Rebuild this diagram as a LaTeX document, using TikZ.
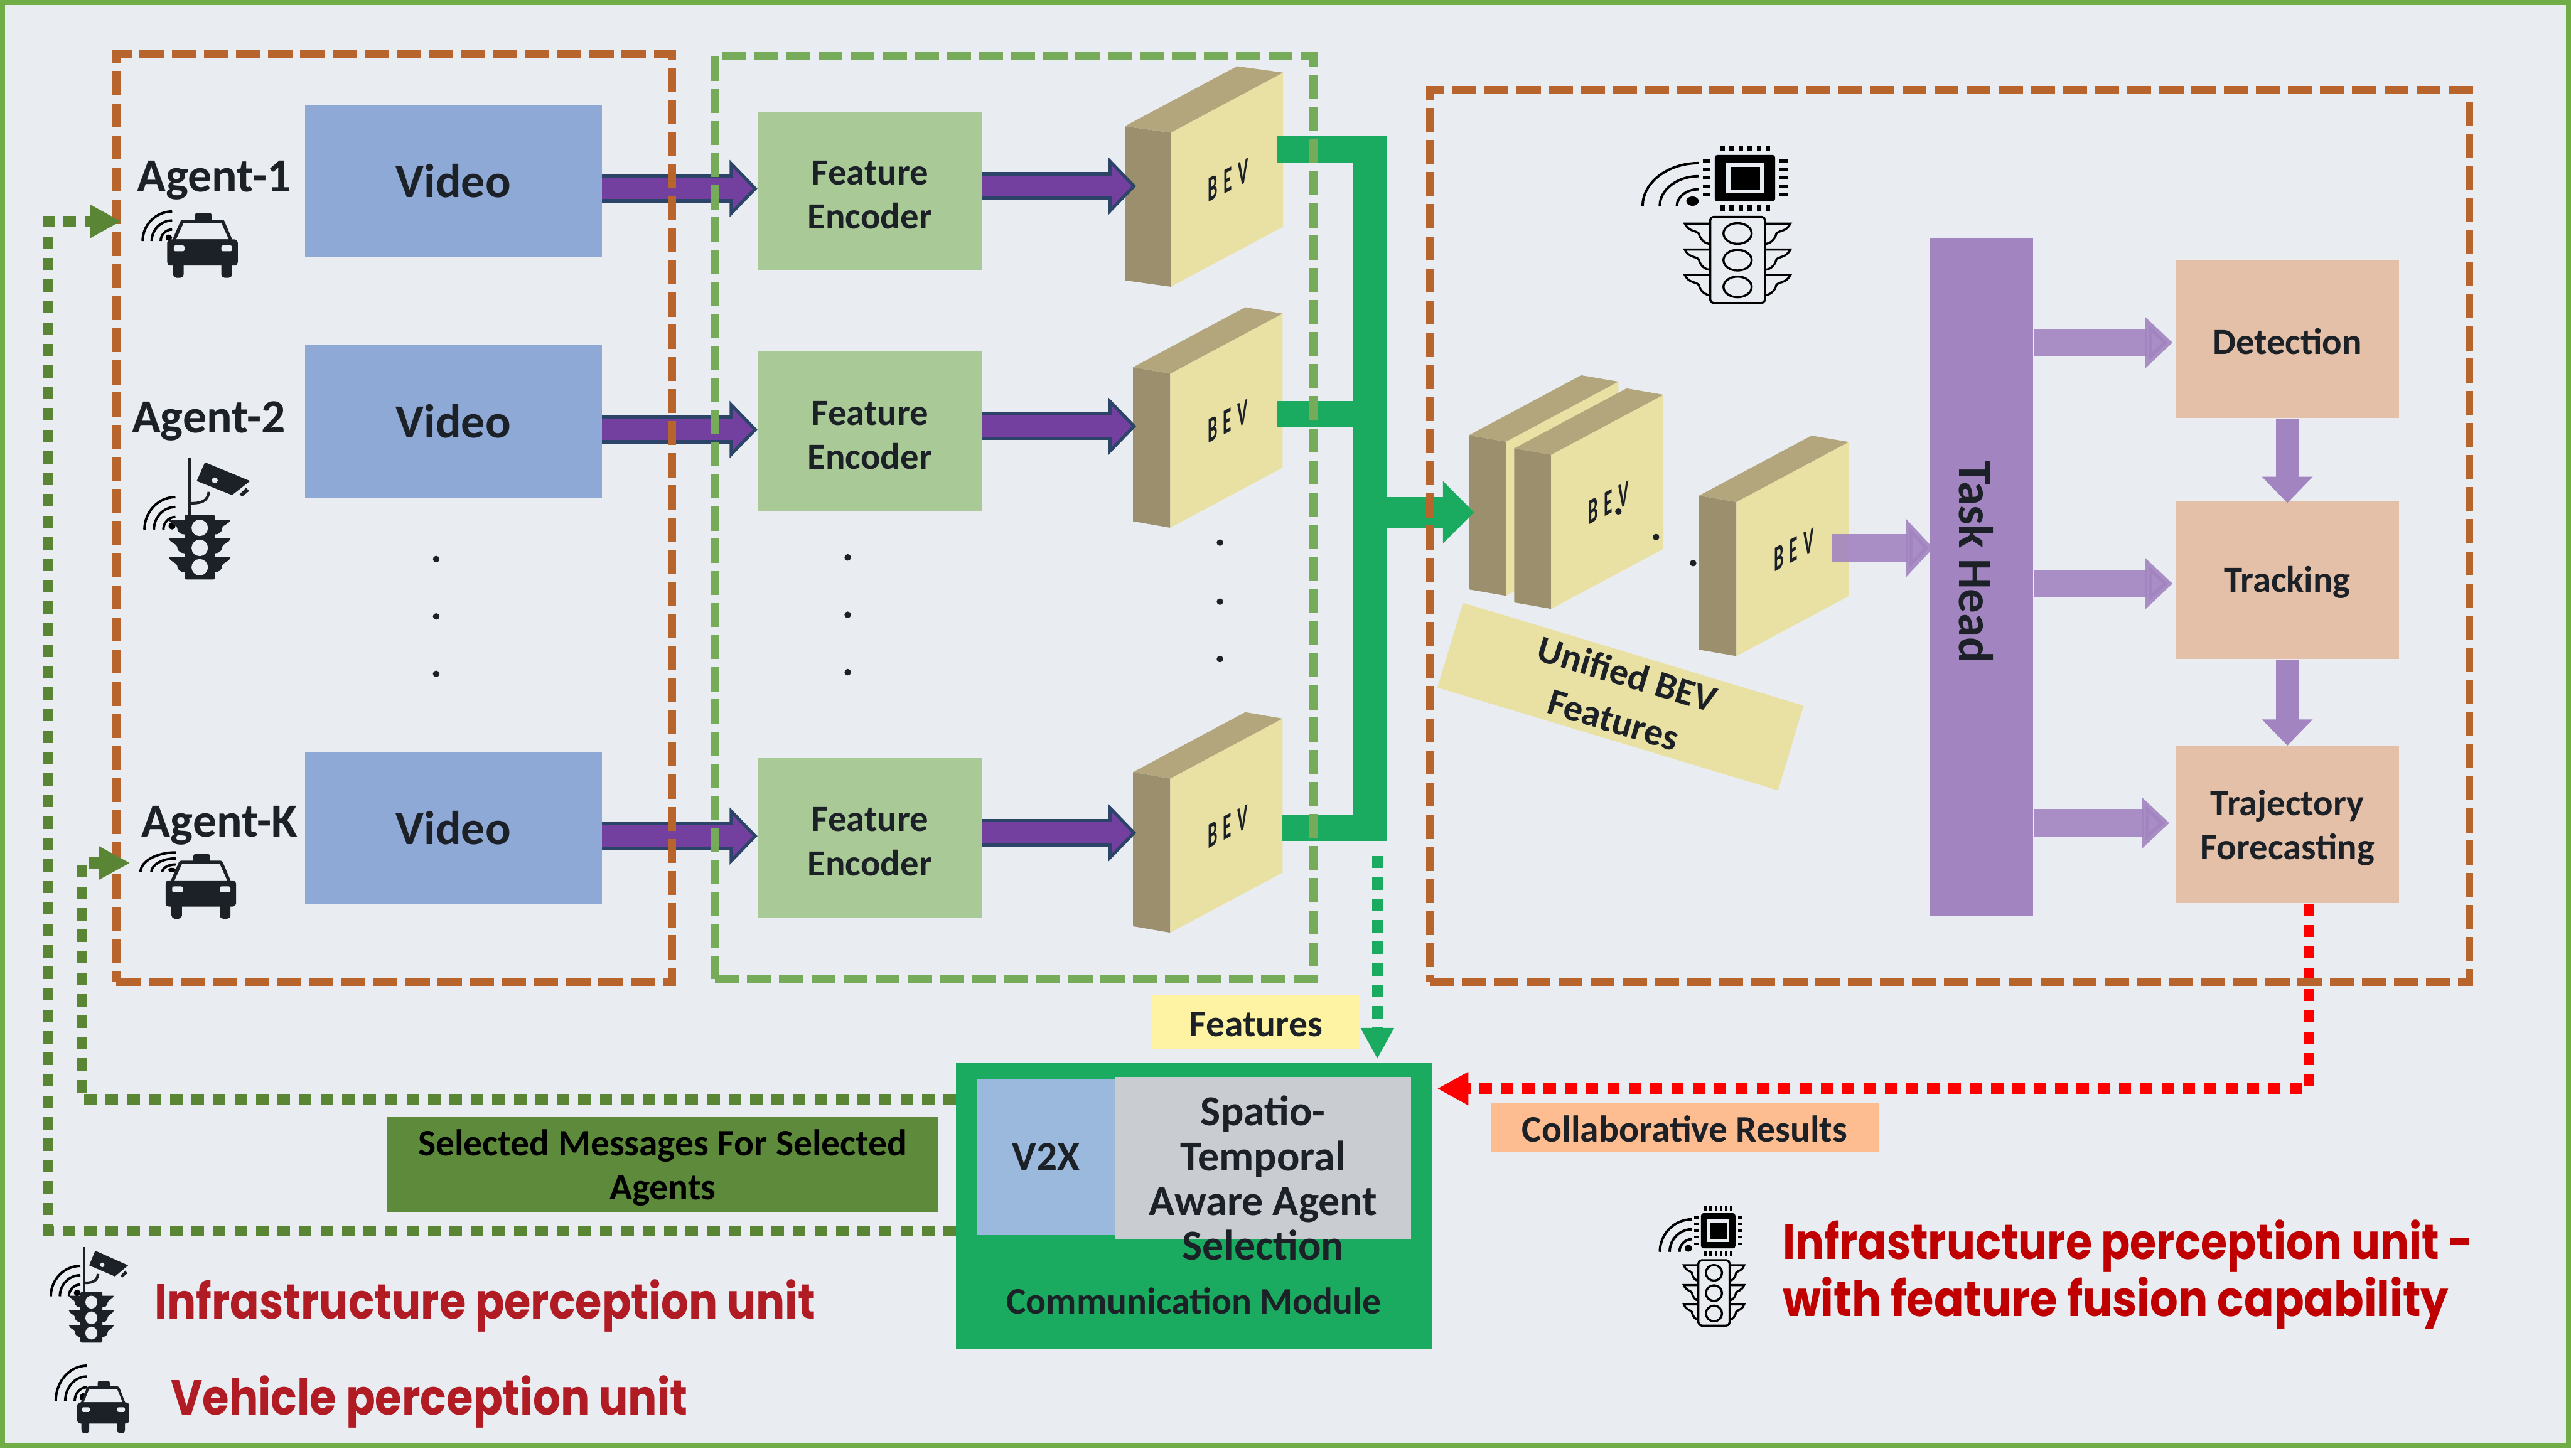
\documentclass[tikz,border=0pt]{standalone}
\usepackage{fontspec}
\setmainfont{Carlito}
\newfontfamily\legendfont{Poppins}
\usetikzlibrary{arrows.meta,positioning,calc}
\definecolor{pagebg}{HTML}{E9EDF2}
\definecolor{pageline}{HTML}{70AD47}
\definecolor{unitorange}{HTML}{B7652D}
\definecolor{unitgreen}{HTML}{76AB5A}
\definecolor{videoblue}{HTML}{8EA9D5}
\definecolor{encgreen}{HTML}{A9C997}
\definecolor{flowpurple}{HTML}{7340A0}
\definecolor{flownavy}{HTML}{2B4468}
\definecolor{busgreen}{HTML}{1AAB60}
\definecolor{bevfront}{HTML}{E9E0A3}
\definecolor{bevside}{HTML}{9B8F6E}
\definecolor{bevtop}{HTML}{B3A67C}
\definecolor{taskpurple}{HTML}{A284C0}
\definecolor{taskpeach}{HTML}{E4C0A8}
\definecolor{msggreen}{HTML}{5A8535}
\definecolor{msgbox}{HTML}{5E8A3C}
\definecolor{featyellow}{HTML}{FEF3A3}
\definecolor{resultpeach}{HTML}{FDBD90}
\definecolor{vxblue}{HTML}{9AB9DC}
\definecolor{selgrey}{HTML}{C9CCD1}
\definecolor{inkdark}{HTML}{1C2127}
\definecolor{legendred}{HTML}{B11C24}
\definecolor{legendred2}{HTML}{C00000}
\newcommand{\toplift}{\rule{0pt}{19.5pt}}
\newcommand{\flowarrow}[2]{%
  \draw[flownavy, line width=17pt, -{Triangle[length=17pt,width=34pt]}] (#1) -- (#2);
  \draw[flowpurple, line width=13pt, -{Triangle[length=12.2pt,width=24.4pt]}] (#1) -- ([xshift=-2.8pt]#2);
}
\newcommand{\softarrow}[3]{%
  \draw[taskpurple, opacity=.9, line width=17pt, -{Triangle[length=16.5pt,width=#3]}] (#1) -- (#2);
}
\newcommand{\bevbox}[3]{%
  \fill[bevside] (#1,#2) -- ++(#3,3.9) -- ++(0,94) -- ++(-#3,-3.9) -- cycle;
  \fill[bevfront] (#1+#3,#2+3.9) -- ++(68.5,-36.6) -- ++(0,94) -- ++(-68.5,36.6) -- cycle;
  \fill[bevtop] (#1,#2) -- ++(#3,3.9) -- ++(68.5,-36.6) -- ++(-#3,-3.9) -- cycle;
  \begin{scope}[shift={(#1+#3+35,#2+33)}, yslant=.53, xscale=.48]
    \node[transform shape, text=inkdark, font=\fontsize{22pt}{24pt}\selectfont\bfseries] {B\,\,E\,\,V};
  \end{scope}
}
\newcommand{\wifimark}[4]{%
  \begin{scope}[shift={(#1,#2)}, xscale=#3, yscale=#4]
    \fill (-2,-2) circle[radius=2];
    \foreach \r in {7,12.5,18}
      \draw[line width=1.5pt] (-\r,0) .. controls (-\r,-.55*\r) and (-.55*\r,-\r) .. (0,-\r);
  \end{scope}
}
\newcommand{\carunit}[4]{%
  \begin{scope}[shift={(#1,#2)}, xscale=#3, yscale=#4, inkdark]
    \fill[rounded corners=1pt] (17,0) rectangle (27,6);
    \fill[rounded corners=1pt] (2.8,17) -- (8.5,4) -- (34.5,4) -- (40,17) -- cycle;
    \fill[pagebg] (5.5,16) -- (10,6) -- (33,6) -- (37.5,16) -- cycle;
    \fill[rounded corners=2pt] (0,16) rectangle (43,32);
    \fill[rounded corners=2pt] (3.6,28) rectangle (10,39.4);
    \fill[rounded corners=2pt] (33,28) rectangle (39.5,39.4);
    \fill[pagebg, rounded corners=1pt] (4,19.7) rectangle (10.5,23.3);
    \fill[pagebg, rounded corners=1pt] (33,19.7) rectangle (39.5,23.3);
  \end{scope}
}
\newcommand{\lightunit}[4]{%
  \begin{scope}[shift={(#1,#2)}, xscale=#3, yscale=#4, inkdark]
    \draw[line width=1.6pt] (3.2,-35) -- (3.2,0);
    \draw[line width=1.6pt] (14.8,-14) .. controls (14,-8) and (10,-7) .. (3.2,-7);
    \fill (12.4,-32) -- (39.9,-20.6) -- (28.9,-12) -- (7.4,-20.6) -- cycle;
    \fill[pagebg] (18.4,-21) circle[radius=1.8];
    \fill (33.5,-12.5) -- (37.5,-16.5) -- (39.3,-14.5) -- (35,-11) -- cycle;
    \fill[rounded corners=1pt] (0,0) rectangle (18.4,39.5);
    \foreach \t in {3,14.5,26} {
      \fill (0,\t) -- (-9.6,\t) .. controls (-8.5,\t+3) and (-5,\t+3) .. (-4.5,\t+5) .. controls (-4.5,\t+8) and (-2,\t+9) .. (0,\t+9) -- cycle;
      \fill (18.4,\t) -- (28,\t) .. controls (26.9,\t+3) and (23.4,\t+3) .. (22.9,\t+5) .. controls (22.9,\t+8) and (20.4,\t+9) .. (18.4,\t+9) -- cycle;
    }
    \foreach \c in {8,20.2,32}
      \fill[pagebg] (9.2,\c) ellipse[x radius=5, y radius=5];
  \end{scope}
}
\newcommand{\chipunit}[4]{%
  \begin{scope}[shift={(#1,#2)}, xscale=#3, yscale=#4, black]
    \fill[rounded corners=1.5pt] (2.8,-37.8) rectangle (39.6,-9.5);
    \fill[pagebg] (9.6,-32.6) rectangle (33,-14.4);
    \fill (12.6,-30.5) rectangle (30.5,-16.8);
    \foreach \i in {0,...,5} {
      \fill (6.2+5.54*\i,-43.5) rectangle (8.9+5.54*\i,-40);
      \fill (6.2+5.54*\i,-7.3) rectangle (8.9+5.54*\i,-3.5);
    }
    \foreach \i in {0,...,4} {
      \fill (-4.6,-35.1+5.2*\i) rectangle (0.3,-33.2+5.2*\i);
      \fill (42.3,-35.1+5.2*\i) rectangle (47.3,-33.2+5.2*\i);
    }
    \wifimark{-7}{-6.7}{1.9}{1.45}
    \foreach \t in {4.1,19.9,35.4} {
      \draw[line width=1.3pt, fill=pagebg] (0,\t) -- (-15.5,\t) .. controls (-13,\t+5) and (-9,\t+4) .. (-7,\t+6) .. controls (-6,\t+10) and (-3,\t+12.3) .. (0,\t+12.3);
      \draw[line width=1.3pt, fill=pagebg] (33.4,\t) -- (48.9,\t) .. controls (46.4,\t+5) and (42.4,\t+4) .. (40.4,\t+6) .. controls (39.4,\t+10) and (36.4,\t+12.3) .. (33.4,\t+12.3);
    }
    \draw[line width=1.3pt, fill=pagebg, rounded corners=2pt] (0,0) rectangle (33.4,52.5);
    \foreach \c in {10.1,26.4,42.7}
      \draw[line width=1.3pt] (16.7,\c) ellipse[x radius=8.6, y radius=6.3];
  \end{scope}
}
\begin{document}
\begin{tikzpicture}[
  x=1pt, y=-1pt,
  box/.style={rectangle, inner sep=0pt, text=inkdark, align=center},
  videobox/.style={box, fill=videoblue, minimum width=181pt, minimum height=93pt, font=\fontsize{29pt}{33pt}\selectfont\bfseries},
  encbox/.style={box, fill=encgreen, minimum width=137pt, minimum height=97pt, font=\fontsize{22.5pt}{27pt}\selectfont\bfseries},
  taskbox/.style={box, fill=taskpeach, minimum width=136pt, minimum height=96pt, font=\fontsize{22.5pt}{27pt}\selectfont\bfseries},
  agentlabel/.style={inner sep=0pt, text=inkdark, anchor=base west, font=\fontsize{29pt}{32pt}\selectfont\bfseries},
  tagbox/.style={box, font=\fontsize{22.8pt}{27pt}\selectfont\bfseries},
  framebox/.style={rectangle, inner sep=0pt, draw, line width=4.8pt, dash pattern=on 14.7pt off 4.9pt},
  dotmark/.style={circle, fill=inkdark, inner sep=0pt, minimum size=4pt},
  busline/.style={busgreen, line width=16pt},
  msgline/.style={msggreen, line width=6.6pt, dash pattern=on 7.6pt off 5.5pt, -{Triangle[length=19pt,width=19pt]}},
  legendtext/.style={inner sep=0pt, font=\fontsize{30pt}{34pt}\legendfont\bfseries},
]
\useasboundingbox (0,0) rectangle (1568,888);
\fill[white] (0,0) rectangle (1568,888);
\fill[pagebg] (0,0) rectangle (1568,882);
\draw[pageline, line width=3.2pt] (1.6,1.6) rectangle (1566.4,881.8);

\node[videobox] (v1) at (276.5,110.5) {Video};
\node[videobox] (v2) at (276.5,257) {Video};
\node[videobox] (v3) at (276.5,505) {Video};
\node[encbox] (f1) at (530.5,116.5) {\toplift Feature\\Encoder};
\node[encbox] (f2) at (530.5,263) {\toplift Feature\\Encoder};
\node[encbox] (f3) at (530.5,511) {\toplift Feature\\Encoder};

\node[agentlabel] (a1) at (83.5,117) {Agent-1};
\node[agentlabel] (a2) at (80.2,264) {Agent-2};
\node[agentlabel] (a3) at (86.3,510.4) {Agent-K};

\wifimark{105}{147}{1}{1}
\carunit{102}{130}{1}{1}
\wifimark{107}{323}{1.05}{1.1}
\lightunit{112.6}{314}{1}{1}
\wifimark{107.3}{532}{1.2}{.67}
\carunit{101}{521}{1}{1}

\foreach \y in {341,376,411} \node[dotmark] (vdot\y) at (266,\y) {};
\foreach \y in {340,375,410} \node[dotmark] (fdot\y) at (517,\y) {};
\foreach \y in {331,367,402} \node[dotmark] (bdot\y) at (744,\y) {};

\bevbox{686}{77}{28}
\bevbox{691}{224}{22.7}
\bevbox{691}{471}{22.7}

\coordinate (in1) at (462,115);
\coordinate (in2) at (462,262);
\coordinate (in3) at (462,510);
\coordinate (bev1) at (693,113.5);
\coordinate (bev2) at (693,260);
\coordinate (bev3) at (693,508);
\flowarrow{v1.east |- in1}{in1}
\flowarrow{v2.east |- in2}{in2}
\flowarrow{v3.east |- in3}{in3}
\flowarrow{f1.east |- bev1}{bev1}
\flowarrow{f2.east |- bev2}{bev2}
\flowarrow{f3.east |- bev3}{bev3}

\bevbox{895.8}{265.5}{22.7}
\bevbox{923.5}{273.5}{22.5}
\bevbox{1036.3}{302.3}{22.7}
\node[dotmark] (udot1) at (987,312) {};
\node[dotmark] (udot2) at (1010,327.6) {};
\node[dotmark] (udot3) at (1032.6,343.5) {};

\coordinate (b1e) at (779,91);
\coordinate (b2e) at (779,252.5);
\coordinate (b3e) at (782,505);
\coordinate (bustop) at (835.3,83);
\coordinate (busbot) at (835.3,513);
\coordinate (busmid) at (845,312.5);
\coordinate (unified) at (899,312.5);
\draw[busline] (b1e) -- (845,91);
\draw[busline] (b2e) -- (835,252.5);
\draw[busline] (b3e) -- (845,505);
\draw[busline, line width=21pt] (bustop) -- (busbot);
\draw[busgreen, line width=18.6pt, -{Triangle[length=19pt,width=37pt]}] (busmid) -- (unified);

\node[box, fill=bevfront, minimum width=217pt, minimum height=54pt, rotate=-16.8, font=\fontsize{23pt}{29pt}\selectfont\bfseries] (ulabel) at (988.3,424.9) {Unified BEV\\Features};

\node[box, fill=taskpurple, minimum width=63pt, minimum height=414pt] (task) at (1208.5,352) {};
\node[box, rotate=-90, font=\fontsize{29.5pt}{32pt}\selectfont\bfseries] (tasktext) at (1205,343) {Task Head};

\node[taskbox] (det) at (1395,207) {\rule{0pt}{18pt}Detection};
\node[taskbox] (trk) at (1395,354) {\rule{0pt}{18pt}Tracking};
\node[taskbox] (fore) at (1395,503) {\toplift Trajectory\\Forecasting};

\coordinate (bevout) at (1117.5,334.3);
\coordinate (taskin) at (1179,334.3);
\coordinate (detin) at (1325,209);
\coordinate (trkin) at (1325,356);
\coordinate (forein) at (1323,502);
\softarrow{bevout}{taskin}{34.5pt}
\softarrow{task.east |- detin}{detin}{30pt}
\softarrow{task.east |- trkin}{trkin}{30pt}
\softarrow{task.east |- forein}{forein}{30pt}
\draw[taskpurple, line width=14pt, -{Triangle[length=16pt,width=30pt]}] (det.south) -- ([yshift=-1pt]trk.north);
\draw[taskpurple, line width=14pt, -{Triangle[length=16pt,width=30pt]}] (trk.south) -- (fore.north);

\node[box, fill=busgreen, minimum width=290pt, minimum height=175pt] (comm) at (728,735.5) {};
\node[box, fill=vxblue, minimum width=84pt, minimum height=95.3pt, font=\fontsize{25pt}{30pt}\selectfont\bfseries] (vx) at (638,705.7) {V2X};
\node[box, fill=selgrey, minimum width=180.7pt, minimum height=98.7pt] (sel) at (770.3,706.4) {};
\node[box, font=\fontsize{26pt}{27.2pt}\selectfont\bfseries] (seltext) at (770.3,718.5) {Spatio-\\Temporal\\Aware Agent\\Selection};
\node[box, font=\fontsize{22.8pt}{26pt}\selectfont\bfseries] (commtext) at (728,793.5) {Communication Module};

\node[tagbox, fill=featyellow, minimum width=126pt, minimum height=33pt] (feat) at (766,623.5) {\rule{0pt}{17.5pt}Features};
\node[tagbox, fill=resultpeach, minimum width=237pt, minimum height=30pt] (res) at (1027.5,688) {\rule{0pt}{17.5pt}Collaborative Results};
\node[tagbox, fill=msgbox, minimum width=336pt, minimum height=58.3pt, text=black] (msg) at (404.2,710.5) {\toplift Selected Messages For Selected\\Agents};

\coordinate (busdrop) at (840,522);
\coordinate (commtop) at (840,646);
\draw[busgreen, line width=6.5pt, dash pattern=on 7.6pt off 5.5pt, -{Triangle[length=19pt,width=19pt]}] (busdrop) -- (commtop);
\coordinate (commright) at (876.5,664);
\draw[red, line width=6.5pt, dash pattern=on 7.4pt off 5.6pt, -{Triangle[length=19pt,width=19pt]}] ([xshift=13pt]fore.south) |- (commright);

\node[framebox, unitorange, minimum width=339pt, minimum height=566pt] (unit1) at (240.5,316) {};
\node[framebox, unitgreen, minimum width=365pt, minimum height=563pt] (unit2) at (618.5,315.5) {};
\node[framebox, unitorange, minimum width=634pt, minimum height=544pt] (unit3) at (1189,327) {};

\coordinate (mid1) at (583,670.4);
\coordinate (turn1) at (50,670.4);
\coordinate (carend) at (79.4,526.4);
\coordinate (mid2) at (583,751);
\coordinate (turn2) at (29.4,751);
\coordinate (taxend) at (74,135);
\draw[msgline] (mid1) -- (turn1) |- (carend);
\draw[msgline] (mid2) -- (turn2) |- (taxend);

\chipunit{1043}{132.3}{1}{1}

\wifimark{49}{790.7}{1}{1.03}
\lightunit{49}{788}{.73}{.785}
\wifimark{52.9}{854.6}{1.05}{1.2}
\carunit{47}{842.4}{.74}{.81}
\chipunit{1035.8}{768.7}{.57}{.76}

\node[legendtext, text=legendred, anchor=west] (infra) at (94,796.5) {\scalebox{.876}[1]{Infrastructure perception unit}};
\node[legendtext, text=legendred, anchor=west] (vehicle) at (104,855) {\scalebox{.88}[1]{Vehicle perception unit}};
\node[legendtext, text=legendred2, anchor=west] (fuse1) at (1087,760) {\scalebox{.87}[1]{Infrastructure perception unit -}};
\node[legendtext, text=legendred2, anchor=west] (fuse2) at (1087,795) {\scalebox{.897}[1]{with feature fusion capability}};
\end{tikzpicture}
\end{document}
